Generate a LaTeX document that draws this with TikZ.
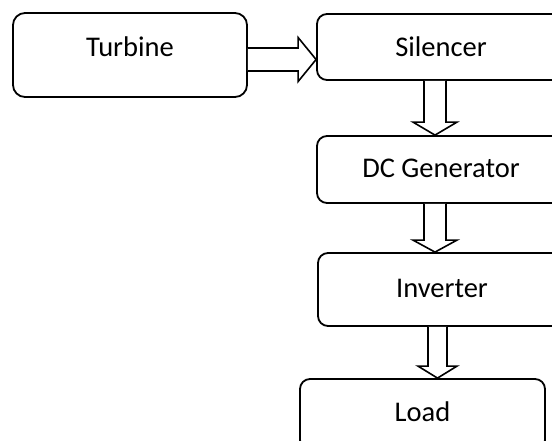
\documentclass[tikz,border=0pt]{standalone}
\usepackage{fontspec}
\setmainfont{Carlito}
\usetikzlibrary{calc}
\tikzset{
  box/.style={draw=black, line width=1.8pt, rounded corners=10pt, inner sep=0pt,
    font=\fontsize{28.5}{30}\selectfont, text height=20pt},
  barrow/.style={draw=black, line width=1.6pt, fill=white, line join=miter},
}
% block arrow pointing down: start coordinate, tip coordinate, half shaft, half head, head length
\newcommand{\blkdown}[5]{%
  \draw[barrow] ($(#1)+(-#3,0)$) -- ($(#2)+(-#3,-#5)$) -- ($(#2)+(-#4,-#5)$) -- (#2)
    -- ($(#2)+(#4,-#5)$) -- ($(#2)+(#3,-#5)$) -- ($(#1)+(#3,0)$);}
\begin{document}
\begin{tikzpicture}[x=1pt,y=-1pt]
\clip (0,0) rectangle (552,440);
\fill[white] (0,0) rectangle (552,440);
\node[box, rounded corners=12pt, minimum width=234pt, minimum height=84pt, text depth=18pt] (tur) at (130,55) {Turbine};
\node[box, minimum width=248pt, minimum height=66pt, text depth=2pt] (sil) at (441,47) {Silencer};
\node[box, minimum width=248pt, minimum height=67pt, text depth=5pt] (dcg) at (441,169.5) {DC Generator};
\node[box, minimum width=248pt, minimum height=73pt, text depth=5pt] (inv) at (442,289.5) {Inverter};
\node[box, minimum width=245pt, minimum height=71pt, text depth=7pt] (lod) at (422.5,414.5) {Load};
% horizontal block arrow Turbine -> Silencer
\path (tur.east |- 0,59.5) coordinate (hs) (sil.west |- 0,59.5) coordinate (ht);
\draw[barrow] ($(hs)+(0,-11.5)$) -- ($(ht)+(-18,-11.5)$) -- ($(ht)+(-18,-22)$) -- (ht)
  -- ($(ht)+(-18,22)$) -- ($(ht)+(-18,11.5)$) -- ($(hs)+(0,11.5)$);
% vertical block arrows
\path (sil.south -| 435,0) coordinate (s1) (dcg.north -| 435,0) coordinate (t1);
\blkdown{s1}{t1}{11}{22}{13}
\path (dcg.south -| 435,0) coordinate (s2) (inv.north -| 435,0) coordinate (t2);
\blkdown{s2}{t2}{11}{22}{12}
\path (inv.south -| 437.5,0) coordinate (s3) (lod.north -| 437.5,0) coordinate (t3);
\blkdown{s3}{t3}{9.5}{19.5}{12}
\end{tikzpicture}
\end{document}
